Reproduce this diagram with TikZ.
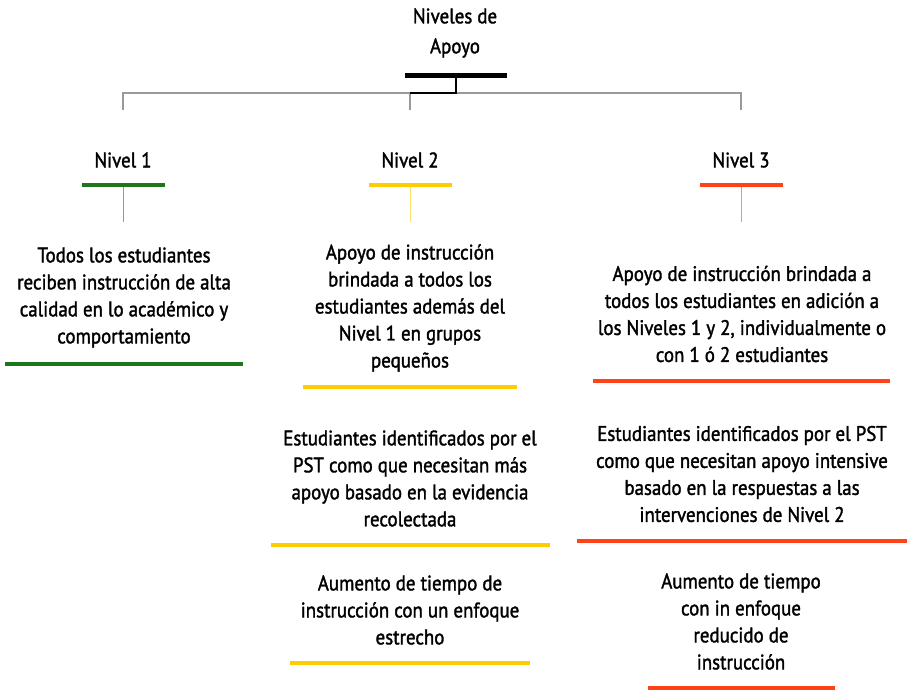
\documentclass[tikz,border=0pt]{standalone}
\usepackage{fontspec}
\setmainfont{PT Sans}[FakeStretch=0.9,FakeBold=1.6]
\usepackage{tikz}
\usetikzlibrary{positioning}

\definecolor{verde}{RGB}{28,118,28}
\definecolor{amarillo}{RGB}{255,204,0}
\definecolor{rojo}{RGB}{255,66,26}

\begin{document}
\begin{tikzpicture}[x=1pt,y=-1pt,
	txt/.style={align=center,inner sep=0pt,text=black,
		font=\fontsize{21}{27}\selectfont},
	barra/.style={fill=#1,inner sep=0pt,minimum height=4pt},
	rama/.style={draw=gray!80,line width=1.2pt}]
		{
			\useasboundingbox (0,0) rectangle (907,691);

			\node[txt,font=\fontsize{21}{30}\selectfont] (titulo) at (455,33) {Niveles de\\Apoyo};
			\node[barra=black,minimum width=102pt,minimum height=5pt] (barra0) at (456,75) {};

			\coordinate (cruce) at (456,93);
			\foreach \i/\x/\c in {1/123/verde,2/410/amarillo,3/741/rojo}
			{
				\coordinate (top\i) at (\x,110);
				\node[txt] (nivel\i) at (\x,160) {Nivel \i};
				\node[barra=\c,minimum width=83pt,minimum height=3.5pt] (barra\i) at (\x,185) {};
				\coordinate (pie\i) at (\x,222);
				\draw[\c!60,line width=0.8pt] (barra\i) -- (pie\i);
			}
			\draw[rama] (top1) |- (cruce) -| (top3);
			\draw[rama] (top2) |- (cruce);
			\draw[line width=1.6pt] (barra0) -- (cruce) -- (cruce -| top2);

			\node[txt] (t1) at (124,297.5) {Todos los estudiantes\\reciben instrucción de alta\\calidad en lo académico y\\comportamiento};
			\node[barra=verde,minimum width=238pt] (l1) at (124,364) {};

			\node[txt] (t2a) at (410,308) {Apoyo de instrucción\\brindada a todos los\\estudiantes además del\\Nivel 1 en grupos\\pequeños};
			\node[barra=amarillo,minimum width=214pt] (l2a) at (410,387) {};
			\node[txt] (t2b) at (410,478.5) {Estudiantes identificados por el\\PST como que necesitan más\\apoyo basado en la evidencia\\recolectada};
			\node[barra=amarillo,minimum width=279pt] (l2b) at (410,545) {};
			\node[txt] (t2c) at (410,610) {Aumento de tiempo de\\instrucción con un enfoque\\estrecho};
			\node[barra=amarillo,minimum width=240pt] (l2c) at (410,663) {};

			\node[txt] (t3a) at (742,314) {Apoyo de instrucción brindada a\\todos los estudiantes en adición a\\los Niveles 1 y 2, individualmente o\\con 1 ó 2 estudiantes};
			\node[barra=rojo,minimum width=297pt] (l3a) at (741.5,381) {};
			\node[txt] (t3b) at (742,474) {Estudiantes identificados por el PST\\como que necesitan apoyo intensive\\basado en la respuestas a las\\intervenciones de Nivel 2};
			\node[barra=rojo,minimum width=330pt] (l3b) at (742,541) {};
			\node[txt] (t3c) at (741,621.5) {Aumento de tiempo\\con in enfoque\\reducido de\\instrucción};
			\node[barra=rojo,minimum width=187pt] (l3c) at (741.5,688) {};
		}
	\end{tikzpicture}
\end{document}
